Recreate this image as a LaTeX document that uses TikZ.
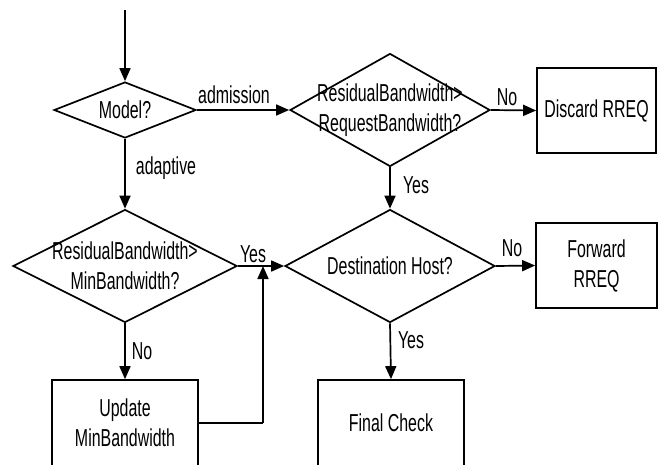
\documentclass[tikz,border=0pt]{standalone}
\usepackage{fontspec}
\setmainfont{Liberation Sans}[FakeStretch=0.65]
\usetikzlibrary{shapes.geometric,arrows.meta}
\begin{document}
\begin{tikzpicture}[x=1pt,y=-1pt,
  every node/.style={font=\fontsize{24.5}{30}\selectfont},
  dia/.style={draw,shape=diamond,inner sep=0pt,line width=1.7pt},
  box/.style={draw,rectangle,inner sep=0pt,line width=1.7pt,align=center},
  conn/.style={line width=1.7pt,-{Triangle[length=13pt,width=11pt]}},
  plain/.style={line width=1.7pt},
  lab/.style={inner sep=0pt}]
\clip (0,0) rectangle (660,464);
\fill[white] (0,0) rectangle (660,464);
\coordinate (start) at (125,10);
\node[dia,minimum width=142pt,minimum height=56pt,label={center:Model?}] (model) at (125,110) {};
\node[dia,minimum width=200pt,minimum height=113pt,label={[align=center]center:ResidualBandwidth>\\RequestBandwidth?}] (rreq) at (390,110) {};
\node[dia,minimum width=224pt,minimum height=113pt,label={[align=center]center:ResidualBandwidth>\\MinBandwidth?}] (rmin) at (125,266) {};
\node[dia,minimum width=210pt,minimum height=113pt,label={center:Destination Host?}] (dest) at (390,266) {};
\node[box,minimum width=119pt,minimum height=85pt] (discard) at (596.5,110.5) {Discard RREQ};
\node[box,minimum width=121pt,minimum height=85pt] (forward) at (596.5,265.5) {Forward\\RREQ};
\node[box,minimum width=146pt,minimum height=86pt] (update) at (125,423) {Update\\MinBandwidth};
\node[box,minimum width=146pt,minimum height=86pt] (final) at (391,423) {Final Check};
\draw[conn] (start) -- (model.north);
\draw[conn] (model.east) -- (rreq.west);
\draw[conn] (model.south) -- (rmin.north);
\draw[conn] (rreq.east) -- (discard.west);
\draw[conn] (rreq.south) -- (dest.north);
\draw[conn] (rmin.east) -- (dest.west);
\draw[conn] (rmin.south) -- (update.north);
\draw[conn] (dest.east) -- (forward.west);
\draw[conn] (dest.south) -- (final.north);
\coordinate (jb) at (263,423);
\coordinate (jt) at (263,266);
\draw[plain] (update.east) -- (jb);
\draw[conn] (jb) -- (jt);
\node[lab] (ladm) at (234,95) {admission};
\node[lab] (lada) at (166,168) {adaptive};
\node[lab] (lno1) at (507,97) {No};
\node[lab] (lyes1) at (416,185) {Yes};
\node[lab] (lyes2) at (253,254) {Yes};
\node[lab] (lno2) at (142,351) {No};
\node[lab] (lno3) at (512,248) {No};
\node[lab] (lyes3) at (411,340) {Yes};
\end{tikzpicture}
\end{document}
